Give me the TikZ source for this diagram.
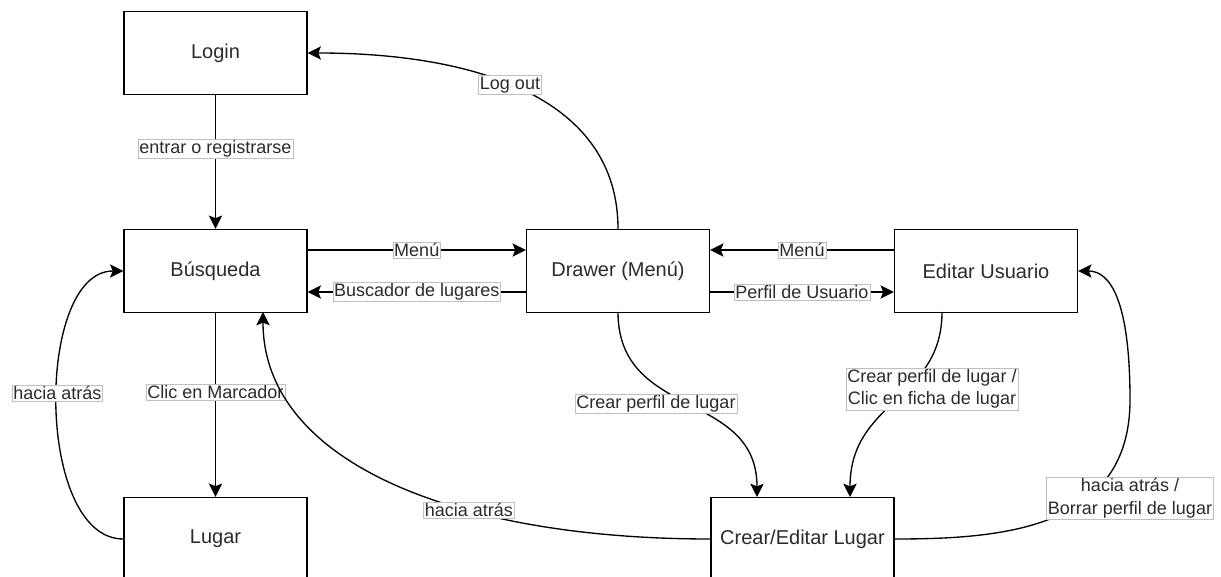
\documentclass[tikz,border=0pt]{standalone}
\usepackage{fontspec}
\setmainfont{Liberation Sans}
\usetikzlibrary{arrows.meta,calc}
\definecolor{txt}{HTML}{2B2B2B}
\begin{document}
\begin{tikzpicture}[x=0.75pt,y=-0.75pt,
  screen/.style={draw, line width=1.2pt, minimum width=137pt, minimum height=62pt,
    inner sep=0pt, text=txt, font=\fontsize{15}{18}\selectfont},
  lbl/.style={fill=white, draw=black!25, line width=0.4pt, inner sep=1pt,
    text=txt, font=\fontsize{13.5}{17}\selectfont, align=center},
  flow/.style={line width=1pt, -{Stealth[length=10pt,width=10pt,inset=2pt]}}]

% page frame
\clip (0,0) rectangle (1221,577);
\fill[white] (0,0) rectangle (1221,577);

% screens
\node[screen] (login)  at (215.5,53)  {Login};
\node[screen] (busq)   at (215.5,271) {Búsqueda};
\node[screen] (drawer) at (618,271)   {Drawer (Menú)};
\node[screen] (editar) at (986,271)   {Editar Usuario};
\node[screen] (lugar)  at (215.5,539) {Lugar};
\node[screen] (crear)  at (802.5,539) {Crear/Editar Lugar};

% straight transitions
\draw[flow] (login.south) -- node[lbl,pos=.4] (l1) {entrar o registrarse} (busq.north);
\draw[flow] ($(busq.east)+(0,-21)$) -- node[lbl] (l2) {Menú} ($(drawer.west)+(0,-21)$);
\draw[flow] ($(drawer.west)+(0,21)$) -- node[lbl] (l3) {Buscador de lugares} ($(busq.east)+(0,21)$);
\draw[flow] ($(editar.west)+(0,-21)$) -- node[lbl] (l4) {Menú} ($(drawer.east)+(0,-21)$);
\draw[flow] ($(drawer.east)+(0,21)$) -- node[lbl] (l5) {Perfil de Usuario} ($(editar.west)+(0,21)$);
\draw[flow] (busq.south) -- node[lbl,pos=.43] (l6) {Clic en Marcador} (lugar.north);

% curved transitions
\draw[flow] (drawer.north) .. controls (618,100) and (480,53) .. node[lbl,pos=.55] (l7) {Log out} (login.east);
\draw[flow] (lugar.west) .. controls (35,539) and (35,271) .. node[lbl,pos=.53] (l8) {hacia atrás} (busq.west);
\draw[flow] (crear.west) .. controls (450,539) and (263,460) .. node[lbl,pos=.35] (l9) {hacia atrás} (263,312);

\coordinate (dstart) at (618,312);
\coordinate (cin1) at (757,497);
\draw[flow] (dstart) .. controls (618,420) and (757,390) .. (cin1);
\node[lbl] (l10) at (656,404) {Crear perfil de lugar};

\coordinate (estart) at (942,312);
\coordinate (cin2) at (850,497);
\draw[flow] (estart) .. controls (942,400) and (850,400) .. (cin2);
\node[lbl] (l11) at (932,389) {Crear perfil de lugar /\\Clic en ficha de lugar};

\draw[flow] (crear.east) .. controls (1000,539) and (1130,530) .. (1130,400)
  .. controls (1130,300) and (1110,271) .. (editar.east);
\node[lbl] (l12) at (1130,498) {hacia atrás /\\Borrar perfil de lugar};
\end{tikzpicture}
\end{document}
